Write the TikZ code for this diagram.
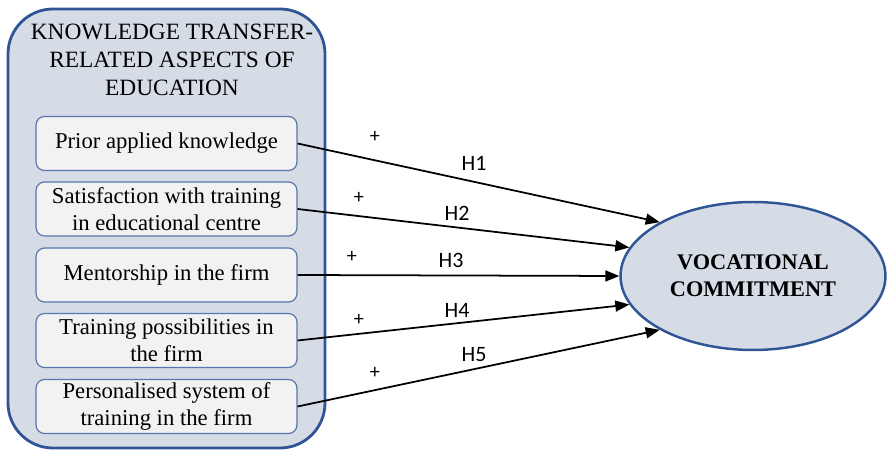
\documentclass[tikz,border=0pt]{standalone}
\usepackage{fontspec}
\setmainfont{Liberation Serif}
\newfontfamily\labelfont{Carlito}
\usetikzlibrary{
    arrows.meta,
    positioning,
    shapes.geometric
}
\definecolor{frame blue}{HTML}{2F5597}
\definecolor{group fill}{HTML}{D6DCE5}
\definecolor{item fill}{HTML}{F2F2F2}
\tikzset{
    % Boxes
    group box/.style={draw=frame blue,fill=group fill,line width=1.6pt,rounded corners=0.9cm},
    item box/.style={draw=frame blue!80!white,fill=item fill,line width=0.7pt,rounded corners=0.17cm,
        minimum width=5.22cm,minimum height=1.08cm,align=center,inner sep=1pt,
        font=\fontsize{12.9}{15.5}\selectfont},
    outcome/.style={ellipse,draw=frame blue,fill=group fill,line width=1.4pt,
        minimum width=5.3cm,minimum height=2.96cm,align=center,
        font=\fontsize{12.7}{15.5}\selectfont\bfseries},
    %
    % Arrows
    arrow tip/.tip={Triangle[length=2.8mm,width=2.2mm]},
    arr/.style={-{arrow tip},line width=1pt},
    %
    % Labels
    sign/.style={font=\labelfont\fontsize{11.5}{13}\selectfont},
    hyp/.style={font=\labelfont\fontsize{12.5}{14}\selectfont}
}

\begin{document}
\begin{tikzpicture}[x=0.02cm,y=-0.02cm]
        \useasboundingbox (0,0) rectangle (887,452);
        % group of education aspects
        \draw[group box] (8,9) rectangle (325,448);
        \node[align=center,font=\fontsize{13.3}{15.9}\selectfont] (title) at (172,60)
            {KNOWLEDGE TRANSFER-\\RELATED ASPECTS OF\\EDUCATION};
        \node[item box] (prior) at (166.5,143.5) {Prior applied knowledge};
        \node[item box] (satisf) at (166.5,209) {Satisfaction with training\\in educational centre};
        \node[item box] (mentor) at (166.5,275) {Mentorship in the firm};
        \node[item box] (possib) at (166.5,340.5) {Training possibilities in\\the firm};
        \node[item box] (perso) at (166.5,406.5) {Personalised system of\\training in the firm};
        % outcome
        \node[outcome] (vc) at (753,276) {VOCATIONAL\\COMMITMENT};
        % hypotheses
        \draw[arr] (prior.east) -- (vc.150);
        \draw[arr] (satisf.east) -- (vc.167);
        \draw[arr] (mentor.east) -- (vc.180);
        \draw[arr] (possib.east) -- (vc.193);
        \draw[arr] (perso.east) -- (vc.210);
        \node[sign] (p1) at (375,137) {+};
        \node[sign] (p2) at (359,198) {+};
        \node[sign] (p3) at (352,257) {+};
        \node[sign] (p4) at (359,320) {+};
        \node[sign] (p5) at (375,373) {+};
        \node[hyp] (h1) at (474,163) {H1};
        \node[hyp] (h2) at (457,213) {H2};
        \node[hyp] (h3) at (451,260) {H3};
        \node[hyp] (h4) at (457,310) {H4};
        \node[hyp] (h5) at (474,355) {H5};
    \end{tikzpicture}
\end{document}
